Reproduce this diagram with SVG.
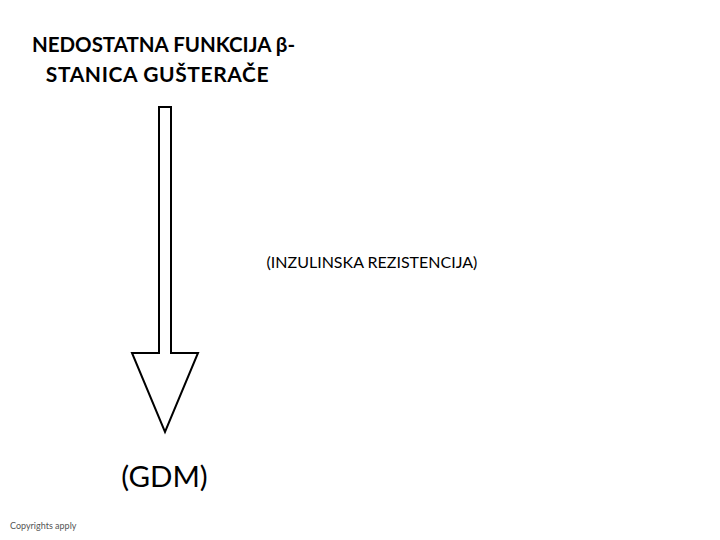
<svg xmlns="http://www.w3.org/2000/svg" width="720" height="540" viewBox="0 0 720 540">
<style>
.t{font-family:Lato,"Open Sans","Liberation Sans",sans-serif;fill:#000}
.b{font-weight:bold}
</style>
<rect width="720" height="540" fill="#fff"/>
<g id="title">
<text class="t b" x="163.5" y="52" font-size="20.5" text-anchor="middle">NEDOSTATNA FUNKCIJA β-</text>
<text class="t b" x="157.5" y="82" font-size="21" text-anchor="middle" letter-spacing="0.6">STANICA GUŠTERAČE</text>
</g>
<g id="connectors">
<polygon points="159,107 171,107 171,353 198,353 165,432 132,353 159,353" fill="#fff" stroke="#000" stroke-width="2" stroke-linejoin="miter"/>
</g>
<g id="insulin">
<text class="t" x="372" y="268" font-size="16" text-anchor="middle">(INZULINSKA REZISTENCIJA)</text>
</g>
<g id="gdm">
<text class="t" x="164.5" y="487" font-size="29.5" text-anchor="middle">(GDM)</text>
</g>
<text x="10" y="529" font-family="Lato,'Liberation Sans',sans-serif" font-size="9" fill="#555">Copyrights apply</text>
</svg>
